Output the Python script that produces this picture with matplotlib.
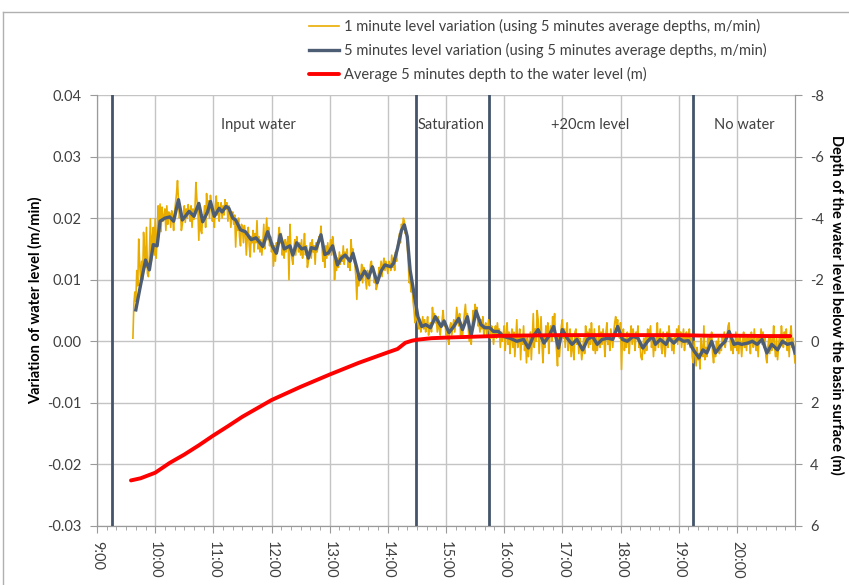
"""
Water level variation during a basin infiltration test.

Left axis: 1-minute and 5-minute level variation (m/min).
Right axis: average 5-minute depth to the water level (m), inverted.
Values were read off the original chart.
"""

import matplotlib
matplotlib.use('Agg')
import numpy as np
import matplotlib.pyplot as plt
from matplotlib.ticker import MultipleLocator, FixedLocator, FuncFormatter
from matplotlib.lines import Line2D

plt.rcParams['font.family'] = ['Lato', 'DejaVu Sans']

# 1 minute level variation (mm/min), one value per minute starting at 9:37
one_min_start = '9:37'
one_min_mm = [
    0.5, 6.1, 8.0,
    6.5, 11.5, 9.0, 16.6, 12.5, 9.9, 13.0, 10.0, 17.7, 14.5,
    12.0, 18.5, 11.0, 10.5, 14.0, 19.9, 13.0, 16.8, 18.5, 14.0,
    19.9, 13.5, 17.0, 22.0, 18.5, 22.3, 17.8, 21.8, 19.5, 20.2,
    21.5, 18.0, 22.0, 19.0, 21.0, 20.8, 18.5, 21.2, 20.0, 18.0,
    21.0, 22.5, 24.0, 26.1, 22.8, 20.0, 21.5, 18.0, 19.0, 20.6,
    22.0, 19.3, 21.5, 20.0, 22.2, 21.0, 19.5, 22.0, 18.5, 21.5,
    19.8, 21.5, 25.8, 23.0, 21.5, 16.4, 22.0, 18.0, 17.5, 20.5,
    20.0, 22.0, 18.5, 24.0, 21.0, 22.8, 20.0, 23.7, 22.0, 19.5,
    21.0, 18.5, 22.0, 23.6, 20.5, 22.5, 19.5, 21.5, 22.5, 20.0,
    22.0, 20.5, 23.0, 21.5, 22.5, 19.5, 22.0, 21.0, 18.5, 20.5,
    21.0, 19.0, 20.5, 15.3, 19.5, 18.0, 20.0, 17.0, 15.5, 19.0,
    18.5, 16.0, 18.8, 17.5, 14.0, 17.0, 18.5, 15.5, 13.7, 17.0,
    16.0, 18.0, 14.5, 17.5, 16.0, 19.6, 15.0, 17.0, 14.5, 16.5,
    14.0, 16.0, 19.0, 15.0, 17.0, 20.0, 16.5, 18.5, 15.5, 17.0,
    14.5, 16.0, 12.2, 15.5, 13.0, 16.0, 14.5, 17.0, 18.5, 16.0,
    17.5, 14.0, 15.5, 13.5, 16.5, 14.5, 16.0, 17.0, 10.0, 19.0,
    15.0, 13.5, 12.5, 15.0, 16.5, 14.0, 17.0, 15.5, 14.5, 16.0,
    14.0, 16.5, 13.5, 15.0, 17.5, 14.0, 15.5, 12.0, 13.0, 14.5,
    16.0, 13.5, 16.5, 14.5, 15.5, 12.5, 16.0, 14.5, 15.5, 17.0,
    16.5, 18.7, 15.5, 13.0, 14.5, 12.0, 15.5, 13.5, 16.0, 14.0,
    15.0, 16.5, 14.0, 17.0, 15.5, 10.0, 13.0, 11.5, 13.5, 12.0,
    14.5, 12.5, 14.0, 13.0, 15.5, 12.5, 14.5, 13.5, 15.0, 12.0,
    13.5, 11.5, 16.5, 14.0, 15.0, 13.0, 12.5, 10.5, 6.8, 11.5,
    9.0, 11.0, 10.5, 12.5, 9.5, 12.0, 11.5, 10.0, 8.5, 11.5,
    10.0, 9.0, 12.5, 13.0, 11.5, 12.0, 9.5, 10.5, 8.4, 9.0,
    10.5, 12.0, 11.0, 13.0, 10.5, 12.5, 13.5, 11.5, 13.0, 12.0,
    11.0, 13.0, 12.5, 11.5, 14.0, 12.0, 13.5, 11.5, 14.5, 13.0,
    15.5, 16.5, 17.5, 16.0, 19.0, 18.5, 20.0, 19.5, 17.5, 18.0,
    15.5, 13.0, 9.5, 10.0, 8.0, 9.0, 6.5, 5.0, 3.0, 3.5,
    4.5, 3.0, 2.0, 3.5, 1.5, 2.5, 4.0, 2.0, 3.5, 1.5,
    2.5, 4.0, 1.0, 2.5, 3.0, 1.5, 5.5, 3.5, 4.5, 3.0,
    3.5, 1.5, 4.0, 2.0, 1.0, 2.5, 3.5, 5.0, 2.5, 3.0,
    1.0, 2.0, 0.5, -0.5, 2.5, 3.0, 1.0, 2.5, 3.5, 1.5,
    3.0, 5.5, 4.0, 2.5, 4.5, 1.0, 2.0, 0.5, 3.0, 4.5,
    6.0, 3.5, 4.5, 2.0, 0.0, 1.5, -0.5, 2.5, 5.0, 3.5,
    6.0, 4.5, 5.5, 2.5, 3.0, 1.5, 3.5, 2.0, 4.0, 1.0,
    2.5, 3.0, 1.0, 2.0, 3.5, 1.5, 0.5, 2.5, 2.0, -0.5,
    1.5, 2.5, 0.5, 3.0, 1.0, 2.0, -1.0, 1.5, 0.0, 1.0,
    2.5, -1.5, 1.0, 3.0, -0.5, 1.5, -2.0, 0.5, 2.0, -1.0,
    1.5, -2.5, 0.5, 3.5, -1.0, 0.0, 2.0, -3.0, 1.0, -0.5,
    2.5, -1.5, 0.5, -3.5, 1.0, -2.5, -0.5, 1.5, -3.0, 0.5,
    4.5, -1.0, 2.0, 0.0, 5.0, 3.5, -2.0, 1.0, 4.0, -0.5,
    -3.5, 1.0, -1.0, 2.5, 0.0, 3.0, -2.0, 1.5, 2.5, 0.0,
    4.0, 2.0, 4.5, 0.5, -1.5, -4.0, 1.0, -2.5, 0.0, 2.5,
    3.5, 0.5, 2.0, -1.0, 1.5, 3.0, -1.5, 0.0, 2.0, -2.5,
    1.0, -1.5, -3.0, 1.5, 2.0, -0.5, 1.0, -2.0, 0.5, -1.0,
    -3.0, -1.5, 0.5, -2.0, 2.5, 0.0, 1.5, -1.0, 2.0, -0.5,
    3.0, 0.5, -1.5, 2.0, -2.0, 1.0, -1.5, 0.0, 2.5, -1.0,
    1.5, -0.5, 2.0, 0.0, -2.5, 1.5, 3.0, -0.5, 1.0, -1.5,
    2.0, 0.5, -1.0, 1.5, 3.0, 4.0, 2.5, 3.5, 1.5, 0.5,
    3.0, -4.6, 1.0, 2.0, -1.5, 0.5, -1.0, 1.5, 0.0, -2.0,
    1.0, 2.5, -0.5, 2.0, 0.5, -1.5, 1.5, 0.5, 2.5, -1.0,
    0.0, -2.5, -3.0, -1.5, 0.5, -2.0, 1.0, -1.5, 2.0, 0.5,
    1.5, 2.5, -1.0, 1.0, -2.5, 0.5, -1.5, 1.0, 3.0, -1.0,
    0.5, 2.0, -1.0, -2.0, 1.5, -0.5, -2.5, 0.0, 1.5, -1.0,
    2.5, 0.5, 1.0, -1.5, 0.5, -2.0, 1.0, 0.0, 2.0, -0.5,
    2.5, 0.0, 1.5, -1.0, 0.5, 2.0, -1.5, 0.5, 1.5, -0.5,
    1.0, 2.0, -1.0, 0.5, -2.5, -3.5, 0.0, -2.0, -4.0, -1.0,
    -3.0, -2.0, -4.5, 0.5, -1.5, -2.5, 2.5, -3.0, -1.0, -2.5,
    0.5, -1.5, 1.0, -0.5, 1.5, -2.0, -3.5, -1.0, -2.5, 0.0,
    -1.5, 0.5, -2.0, -0.5, -1.5, 1.0, -0.5, 1.5, -1.0, 0.5,
    1.0, 2.5, 3.0, 0.5, -1.5, 1.0, -2.0, 0.0, -1.0, 1.5,
    -1.5, 0.5, -2.0, 1.0, -0.5, -2.5, 0.0, 1.5, -1.0, 0.5,
    -1.5, 1.0, -0.5, 0.5, -2.0, 1.5, 0.0, -1.0, 2.0, -0.5,
    -1.5, 0.5, -2.5, 1.0, 0.0, 2.0, -0.5, 1.5, -1.0, 0.5,
    -2.5, -3.5, -1.0, 0.5, -2.0, 1.0, -1.5, 0.0, 2.5, -1.0,
    -2.5, 0.5, -3.0, -1.0, 1.0, -0.5, 2.5, 0.5, -1.0, 1.5,
    0.5, 2.0, -1.5, 0.5, -2.5, 1.0, 2.5, -1.0, 0.5, -1.5,
    -3.5,
]

# 5 minutes level variation (mm/min), read at the turning points of the curve
five_min_times = [
    '9:40', '9:44', '9:50', '9:54', '9:58', '10:02', '10:05', '10:10', '10:15', '10:19',
    '10:24', '10:28', '10:35', '10:40', '10:45', '10:49', '10:54', '10:57', '11:01', '11:06',
    '11:09', '11:13', '11:16', '11:20', '11:23', '11:28', '11:33', '11:39', '11:44', '11:51',
    '11:56', '12:01', '12:05', '12:09', '12:13', '12:19', '12:22', '12:26', '12:31', '12:35',
    '12:38', '12:41', '12:46', '12:51', '12:55', '12:59', '13:03', '13:08', '13:12', '13:16',
    '13:21', '13:24', '13:28', '13:31', '13:36', '13:40', '13:44', '13:49', '13:53', '13:57',
    '14:03', '14:06', '14:10', '14:14', '14:17', '14:20', '14:23', '14:27', '14:31', '14:35',
    '14:39', '14:44', '14:49', '14:55', '14:58', '15:03', '15:08', '15:13', '15:17', '15:22',
    '15:26', '15:31', '15:36', '15:40', '15:45', '15:49', '15:54', '15:59', '16:06', '16:13',
    '16:20', '16:25', '16:30', '16:35', '16:41', '16:46', '16:51', '16:56', '17:00', '17:05',
    '17:10', '17:15', '17:21', '17:26', '17:31', '17:36', '17:41', '17:47', '17:52', '17:57',
    '18:02', '18:07', '18:13', '18:18', '18:23', '18:28', '18:33', '18:36', '18:41', '18:47',
    '18:50', '18:55', '19:00', '19:05', '19:10', '19:16', '19:21', '19:25', '19:29', '19:34',
    '19:38', '19:43', '19:48', '19:52', '19:57', '20:01', '20:05', '20:11', '20:16', '20:21',
    '20:26', '20:31', '20:36', '20:42', '20:47', '20:52', '20:57', '21:00',
]
five_min_mm = [
    5.1, 8.4, 13.2, 11.6, 15.7, 15.5, 19.5, 20.0, 20.2, 19.5,
    23.0, 19.7, 21.1, 20.3, 22.4, 19.4, 21.0, 22.7, 20.3, 21.6,
    21.0, 21.9, 21.6, 20.0, 19.7, 18.1, 17.8, 16.5, 16.8, 15.4,
    17.8, 15.4, 14.3, 17.3, 15.0, 15.5, 14.0, 16.0, 15.0, 15.2,
    13.5, 15.2, 15.0, 17.3, 14.1, 14.4, 15.5, 12.4, 13.5, 14.0,
    13.0, 14.3, 11.9, 10.0, 11.4, 10.3, 12.1, 9.5, 11.4, 12.4,
    12.1, 12.7, 15.1, 18.0, 18.9, 17.0, 11.5, 7.7, 4.0, 2.4,
    2.7, 2.2, 4.0, 2.4, 3.3, 1.4, 2.4, 3.7, 1.9, 4.0,
    1.0, 4.9, 2.7, 2.2, 2.2, 1.6, 1.6, 0.8, 0.5, 0.0,
    0.3, -1.1, 0.8, 1.9, -0.3, 0.8, 2.4, -1.1, 1.9, 0.5,
    -0.5, 0.3, -1.4, 0.3, 0.8, -0.5, 0.3, 0.5, 0.3, 2.4,
    0.3, 0.0, 0.8, 0.5, -1.1, 0.0, 0.8, -0.5, 0.3, -0.5,
    0.5, -0.3, 0.5, 0.0, 0.1, -1.6, -2.7, -1.4, -1.9, 0.0,
    -1.9, -0.8, 0.0, 1.6, -0.5, -0.3, -0.5, -0.3, 0.0, -0.5,
    0.3, -1.9, -0.5, -1.4, 0.0, -0.5, -0.3, -1.9,
]

# Average 5 minutes depth to the water level (m), right axis
depth_times = [
    '9:35', '9:45', '10:00', '10:15', '10:30', '10:45', '11:00', '11:15', '11:30', '11:45',
    '12:00', '12:30', '13:00', '13:30', '14:00', '14:10', '14:18', '14:25', '14:30', '14:45',
    '15:00', '15:30', '16:00', '17:00', '18:00', '19:00', '19:30', '20:00', '20:30', '20:55',
]
depth_m = [
    4.52, 4.45, 4.27, 3.95, 3.68, 3.38, 3.06, 2.76, 2.45, 2.18,
    1.91, 1.48, 1.08, 0.70, 0.36, 0.25, 0.05, -0.02, -0.05, -0.10,
    -0.12, -0.15, -0.18, -0.20, -0.20, -0.20, -0.18, -0.18, -0.17, -0.17,
]

phase_bounds = ['9:15', '14:29', '15:44', '19:15']
phase_names = ['Input water', 'Saturation', '+20cm level', 'No water']
phase_label_times = ['11:46', '15:05', '17:29', '20:08']

hour_ticks = list(range(9, 21))
left_ticks = [-0.03, -0.02, -0.01, 0.00, 0.01, 0.02, 0.03, 0.04]
right_ticks = [-8, -6, -4, -2, 0, 2, 4, 6]

TEXT = '#404040'
GRID = '#c4c4c4'
SPINE = '#9a9a9a'


def to_hours(t: str) -> float:
    h, m = t.split(':')
    return int(h) + int(m) / 60


def main():
    fig = plt.figure(figsize=(8.49, 5.85), dpi=100)
    ax = fig.add_axes([0.1143, 0.1009, 0.8221, 0.7367])
    ax2 = ax.twinx()

    # outer chart frame (only top and left edges are visible in the picture)
    fig.add_artist(Line2D([3 / 849, 1], [1 - 12 / 585] * 2, color='#b0b0b0', lw=1))
    fig.add_artist(Line2D([3 / 849] * 2, [0, 1 - 12 / 585], color='#b0b0b0', lw=1))

    # yellow and dark series on the left axis
    x1 = to_hours(one_min_start) + np.arange(len(one_min_mm)) / 60
    y1 = np.array(one_min_mm) / 1000
    x5 = [to_hours(t) for t in five_min_times]
    y5 = np.array(five_min_mm) / 1000

    for t in phase_bounds:
        ax.axvline(to_hours(t), color='#44546a', lw=2, zorder=3)

    l1, = ax.plot(x1, y1, color='#e9ad00', lw=1.2, zorder=4,
                  label='1 minute level variation (using 5 minutes average depths, m/min)')
    l5, = ax.plot(x5, y5, color='#4d5d74', lw=2.4, zorder=5,
                  label='5 minutes level variation (using 5 minutes average depths, m/min)')

    xd = [to_hours(t) for t in depth_times]
    ld, = ax2.plot(xd, depth_m, color='#ff0000', lw=2.8, solid_capstyle='round',
                   label='Average 5 minutes depth to the water level (m)')

    for name, t in zip(phase_names, phase_label_times):
        ax.text(to_hours(t), 0.0352, name, ha='center', va='center', fontsize=10.5, color=TEXT)

    # axes limits and ticks
    ax.set_xlim(9, 21)
    ax.set_ylim(-0.03, 0.04)
    ax2.set_ylim(6, -8)

    ax.xaxis.set_major_locator(FixedLocator(hour_ticks))
    ax.xaxis.set_major_formatter(FuncFormatter(lambda v, p: f'{int(round(v))}:00'))
    ax.xaxis.set_minor_locator(MultipleLocator(1 / 6))
    ax.yaxis.set_major_locator(FixedLocator(left_ticks))
    ax.yaxis.set_major_formatter(FuncFormatter(lambda v, p: f'{v:.2f}'))
    ax2.yaxis.set_major_locator(FixedLocator(right_ticks))
    ax2.yaxis.set_major_formatter(FuncFormatter(lambda v, p: f'{int(v)}'))

    ax.tick_params(axis='x', which='major', direction='out', length=5, color=SPINE,
                   labelcolor=TEXT, labelsize=10.5, labelrotation=-90, pad=6)
    ax.tick_params(axis='x', which='minor', direction='out', length=3, color=SPINE)
    ax.tick_params(axis='y', direction='out', length=5, color=SPINE,
                   labelcolor=TEXT, labelsize=10.5, pad=6)
    ax2.tick_params(axis='y', direction='out', length=5, color=SPINE,
                    labelcolor=TEXT, labelsize=10.5, pad=6)

    ax.grid(True, which='major', color=GRID, lw=1)
    ax.set_axisbelow(True)
    for a in (ax, ax2):
        a.spines['top'].set_visible(False)
        for s in ('left', 'right', 'bottom'):
            a.spines[s].set_color(SPINE)

    # axis titles placed in figure coordinates to match the original layout
    fig.text(35 / 849, 1 - 300 / 585, 'Variation of water level (m/min)', rotation=90,
             ha='center', va='center', fontsize=10.5, fontweight='bold', color='black')
    fig.text(837 / 849, 1 - 305 / 585, 'Depth of the water level below the basin surface (m)',
             rotation=-90, ha='center', va='center', fontsize=10.5, fontweight='bold',
             color='black')

    fig.legend(handles=[l1, l5, ld], loc='upper left', bbox_to_anchor=(303 / 849, 1 - 13 / 585),
               frameon=False, fontsize=10.5, handlelength=2.1, handletextpad=0.3,
               labelspacing=0.62, borderaxespad=0, labelcolor=TEXT)

    fig.savefig('out.png', dpi=100)
    plt.close(fig)


if __name__ == '__main__':
    main()
